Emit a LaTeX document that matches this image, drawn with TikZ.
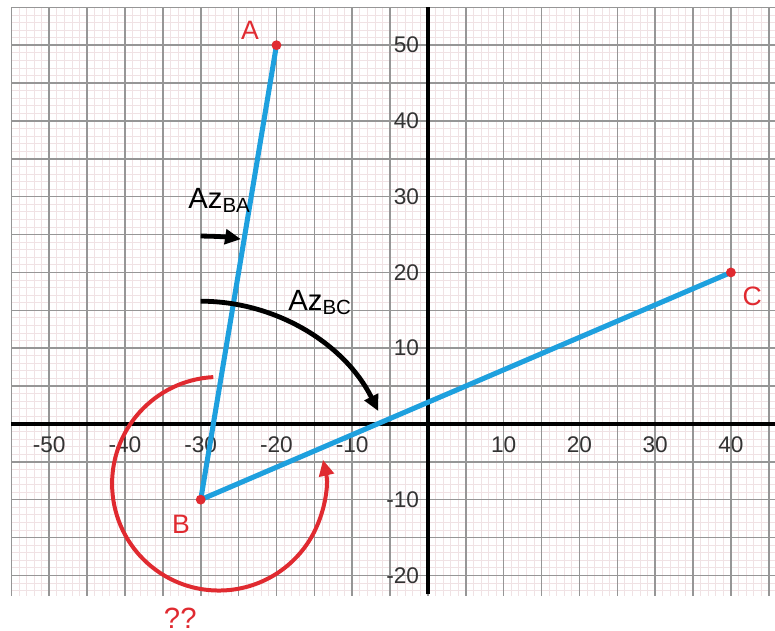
\documentclass[tikz,border=0pt]{standalone}
\usepackage{fontspec}
\setmainfont{Liberation Sans}
\usepackage{xcolor}
\usetikzlibrary{arrows.meta}
\definecolor{lineblue}{RGB}{30,160,222}
\definecolor{markred}{RGB}{224,42,48}
\definecolor{gridpink}{RGB}{240,226,228}
\definecolor{gridgray}{RGB}{150,150,150}

\begin{document}
\begin{tikzpicture}[x=1mm, y=1mm,
    seg/.style={lineblue, line width=1.9pt},
    azarc/.style={black, line width=1.8pt, -{Triangle[length=6pt,width=5.5pt]}},
    turnarc/.style={markred, line width=1.5pt, -{Triangle[length=6pt,width=5.5pt]}},
    ticklab/.style={text=black!80, font=\fontsize{8.5}{8.5}\selectfont, inner sep=0pt},
    ptlab/.style={markred, font=\fontsize{10}{10}\selectfont, inner sep=0pt},
    azlab/.style={anchor=base west, inner sep=0pt, font=\fontsize{11}{11}\selectfont}]

    \useasboundingbox (-56.5,-27.33) rectangle (45.82,55.97);
    \fill [white] (-56.5,-27.33) rectangle (45.82,55.97);

    \draw [gridpink, line width=0.3pt] (-55,-22.7) grid[step=1] (45.82,55);
    \draw [gridgray, line width=0.6pt] (-55,-22.7) grid[step=5] (45.82,55);

    \coordinate (xl) at (-55,0);
    \coordinate (xr) at (45.82,0);
    \coordinate (yb) at (0,-22.5);
    \coordinate (yt) at (0,55);
    \draw [line width=1.2pt] (xl) -- (xr);
    \draw [line width=1.2pt] (yb) -- (yt);

    \foreach \x in {-50,-40,...,-10,10,20,30,40}
        \node [ticklab] (x\x) at (\x,-2.8) {\x};
    \foreach \y in {-20,-10,10,20,...,50}
        \node [ticklab, anchor=east] (y\y) at (-1.1,\y) {\y};

    \coordinate (A) at (-20,50);
    \coordinate (B) at (-30,-10);
    \coordinate (C) at (40,20);
    \coordinate (turn) at (-27.6,-7.9);

    \draw [seg] (B) -- (A);
    \draw [seg] (B) -- (C);
    \foreach \p in {A,B,C}
        \fill [markred] (\p) circle (0.65);

    \node [ptlab] (la) at (-23.5,52) {A};
    \node [ptlab] (lb) at (-32.6,-13.3) {B};
    \node [ptlab] (lc) at (42.8,16.8) {C};
    \node [ptlab, font=\fontsize{11}{11}\selectfont] (lq) at (-32.7,-25.6) {??};

    \draw [azarc] (B) ++(90:34.8) arc[start angle=90, end angle=81.2, radius=34.8];
    \draw [azarc] (B) ++(90:26.2) arc[start angle=90, end angle=26.5, radius=26.2];
    \draw [turnarc] (turn) ++(93:14.1) arc[start angle=93, end angle=373, radius=14.1];

    \node [azlab] (azba) at (-31.7,28.5) {Az\textsubscript{BA}};
    \node [azlab] (azbc) at (-18.5,15.0) {Az\textsubscript{BC}};

\end{tikzpicture}
\end{document}
